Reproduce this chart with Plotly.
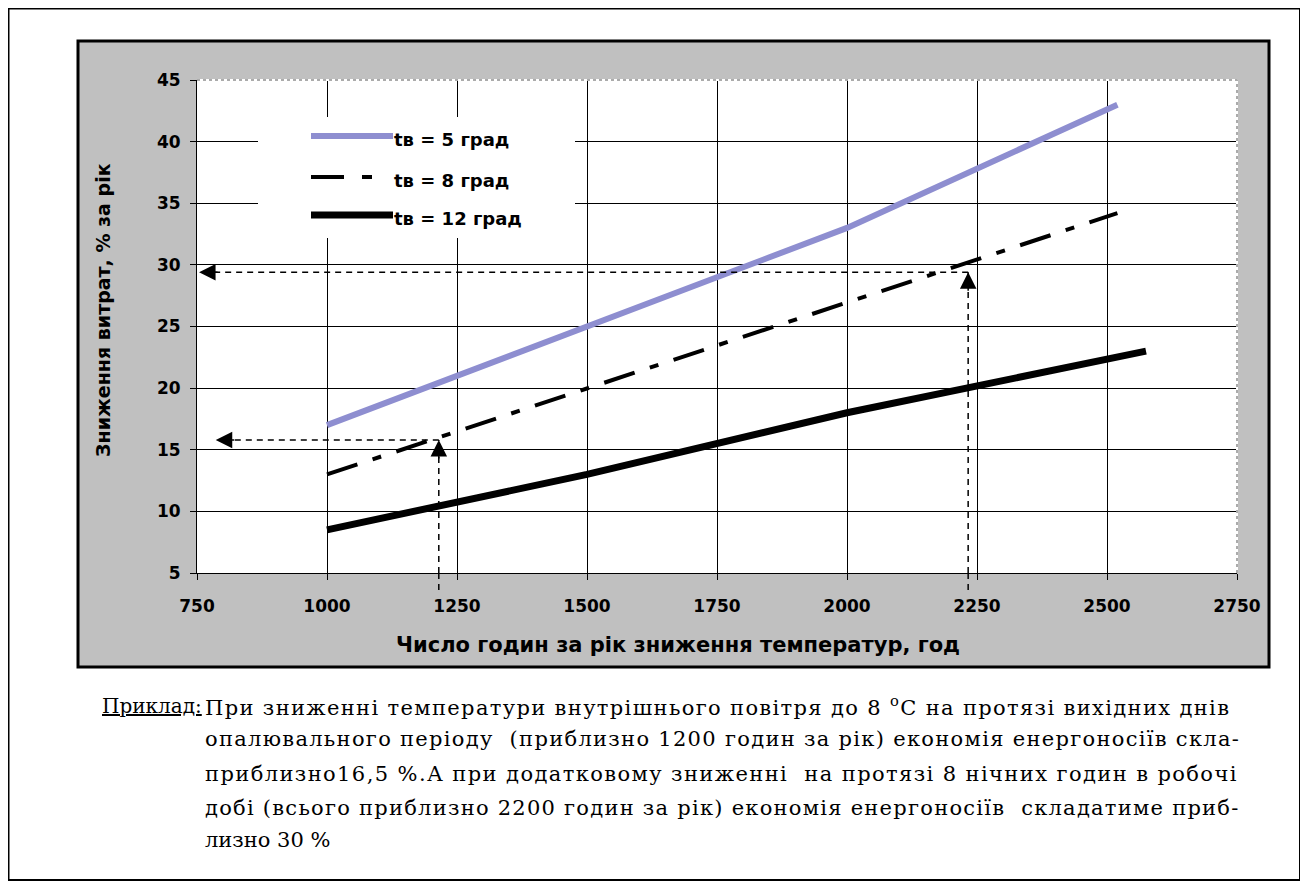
import plotly.graph_objects as go

# ---- data ----
hours_5 = [1000, 1500, 2000, 2520]
save_5 = [17, 25, 33, 43]
hours_8 = [1000, 1500, 2000, 2520]
save_8 = [13, 20, 27, 34.2]
hours_12 = [1000, 1500, 2000, 2575]
save_12 = [8.5, 13, 18, 23]

series_names = ["tв = 5 град", "tв = 8 град", "tв = 12 град"]

# example reading lines (hours, saving, arrow end on hours axis)
ex1_hours, ex1_save, ex1_left = 1215, 15.8, 786
ex2_hours, ex2_save, ex2_left = 2233, 29.4, 754

x_ticks = [750, 1000, 1250, 1500, 1750, 2000, 2250, 2500, 2750]
y_ticks = [5, 10, 15, 20, 25, 30, 35, 40, 45]

x_title = "Число годин за рік зниження температур, год"
y_title = "Зниження витрат, % за рік"

note_label = '<span style="text-decoration:underline">Приклад:</span>'
note_lines = [
    "При зниженні температури внутрішнього повітря до 8 <sup>o</sup>С на протязі вихідних днів",
    "опалювального періоду  (приблизно 1200 годин за рік) економія енергоносіїв скла-",
    "приблизно16,5 %.А при додатковому зниженні  на протязі 8 нічних годин в робочі",
    "добі (всього приблизно 2200 годин за рік) економія енергоносіїв  складатиме приб-",
    "лизно 30 %",
]

# ---- layout geometry (page pixels; the page body adds an 8px offset) ----
OFF = 8
W, H = 1308, 888
L, R, T, B = 197, 1237, 80, 573   # plot area on the page


def px(x):
    return (x - L) / (R - L)


def py(y):
    return (B - y) / (B - T)


SANS = "DejaVu Sans"
SERIF = "DejaVu Serif"

fig = go.Figure()

# data series
fig.add_trace(go.Scatter(x=hours_5, y=save_5, mode="lines", name=series_names[0],
                         line=dict(color="#8e8ed0", width=6), showlegend=False))
fig.add_trace(go.Scatter(x=hours_8, y=save_8, mode="lines", name=series_names[1],
                         line=dict(color="black", width=4, dash="32px,16px,9px,16px"),
                         showlegend=False))
fig.add_trace(go.Scatter(x=hours_12, y=save_12, mode="lines", name=series_names[2],
                         line=dict(color="black", width=7), showlegend=False))

# dashed reading lines
for hx, sv, lx in [(ex1_hours, ex1_save, ex1_left), (ex2_hours, ex2_save, ex2_left)]:
    fig.add_trace(go.Scatter(x=[hx, hx], y=[y_ticks[0], sv], mode="lines", showlegend=False,
                             line=dict(color="black", width=1.5, dash="6px,5px")))
    fig.add_trace(go.Scatter(x=[hx, lx + 20], y=[sv, sv], mode="lines", showlegend=False,
                             line=dict(color="black", width=1.5, dash="6px,5px")))

shapes = []
# outer frame
shapes.append(dict(type="rect", xref="paper", yref="paper", x0=px(8.5), x1=px(1300), y0=py(880), y1=py(8.5),
                   line=dict(color="black", width=2), fillcolor="white", layer="below"))
# grey chart area
shapes.append(dict(type="rect", xref="paper", yref="paper", x0=px(78), x1=px(1269), y0=py(667), y1=py(41),
                   line=dict(color="black", width=3), fillcolor="#c0c0c0", layer="below"))
# white plot area
shapes.append(dict(type="rect", xref="paper", yref="paper", x0=0, x1=1, y0=0, y1=1,
                   line=dict(width=0), fillcolor="white", layer="below"))
# top / right plot border (dotted grey)
for (x0, y0, x1, y1) in [(0, 1, 1, 1), (1, 0, 1, 1)]:
    shapes.append(dict(type="line", xref="paper", yref="paper", x0=x0, y0=y0, x1=x1, y1=y1,
                       line=dict(color="white", width=2), layer="above"))
    shapes.append(dict(type="line", xref="paper", yref="paper", x0=x0, y0=y0, x1=x1, y1=y1,
                       line=dict(color="#909090", width=1.5, dash="dot"), layer="above"))
# stubs of the vertical reading lines below the axis
for hx in [ex1_hours, ex2_hours]:
    shapes.append(dict(type="line", xref="x", yref="paper", x0=hx, x1=hx, y0=py(590), y1=0,
                       line=dict(color="black", width=1.5, dash="6px,5px"), layer="above"))

# custom legend
shapes.append(dict(type="rect", xref="paper", yref="paper", x0=px(258), x1=px(575), y0=py(238), y1=py(117),
                   line=dict(width=0), fillcolor="white", layer="above"))
leg_y = [136, 177, 215]
leg_x_end = [393, 377, 393]
leg_styles = [dict(color="#8e8ed0", width=6),
              dict(color="black", width=4, dash="33px,18px,10px,18px"),
              dict(color="black", width=7)]
for yy, xe, st in zip(leg_y, leg_x_end, leg_styles):
    shapes.append(dict(type="line", xref="paper", yref="paper", x0=px(311), x1=px(xe), y0=py(yy), y1=py(yy),
                       line=st, layer="above"))

annotations = []
for yy, name in zip(leg_y, series_names):
    annotations.append(dict(xref="paper", yref="paper", x=px(392), y=py(yy + 3), text=name,
                            showarrow=False, xanchor="left", yanchor="middle",
                            font=dict(family=SANS, size=18, color="black", weight="bold")))

# arrow heads
arrow_common = dict(xref="x", yref="y", text="", showarrow=True, arrowhead=2,
                    arrowsize=2.2, arrowwidth=1.5, arrowcolor="black")
annotations.append(dict(x=ex1_left, y=ex1_save, ax=20, ay=0, **arrow_common))
annotations.append(dict(x=ex2_left, y=ex2_save, ax=20, ay=0, **arrow_common))
annotations.append(dict(x=ex1_hours, y=ex1_save, ax=0, ay=20, **arrow_common))
annotations.append(dict(x=ex2_hours, y=ex2_save, ax=0, ay=20, **arrow_common))

# axis titles
annotations.append(dict(xref="paper", yref="paper", x=px(678), y=py(645), text=x_title, showarrow=False,
                        xanchor="center", yanchor="middle",
                        font=dict(family=SANS, size=21, color="black", weight="bold")))
annotations.append(dict(xref="paper", yref="paper", x=px(103), y=py(310), text=y_title, showarrow=False,
                        textangle=-90, xanchor="center", yanchor="middle",
                        font=dict(family=SANS, size=19, color="black", weight="bold")))

# note text (justified lines widened with letter spacing)
note_font = dict(family=SERIF, size=21, color="black")
annotations.append(dict(xref="paper", yref="paper", x=px(100), y=py(706), text=note_label,
                        showarrow=False, xanchor="left", yanchor="middle",
                        font=dict(family=SERIF, size=20, color="black")))
note_y = [706, 739, 774, 808, 840]
note_spacing = [1.35, 1.3, 1.4, 1.25, 0]
for ty, sp, line in zip(note_y, note_spacing, note_lines):
    annotations.append(dict(xref="paper", yref="paper", x=px(203), y=py(ty),
                            text='<span style="letter-spacing:%spx">%s</span>' % (sp, line),
                            showarrow=False, xanchor="left", yanchor="middle", font=note_font))

axis_common = dict(showgrid=True, gridcolor="black", gridwidth=1, zeroline=False,
                   showline=True, linecolor="black", linewidth=1,
                   ticks="outside", ticklen=6, tickcolor="black", tickwidth=1,
                   tickfont=dict(family=SANS, size=17, color="black", weight="bold"))

fig.update_layout(
    width=W, height=H, autosize=False,
    margin=dict(l=L - OFF, r=W - (R - OFF), t=T - OFF, b=H - (B - OFF)),
    paper_bgcolor="white", plot_bgcolor="white",
    xaxis=dict(range=[x_ticks[0], x_ticks[-1]], tickvals=x_ticks, ticklabelstandoff=12, **axis_common),
    yaxis=dict(range=[y_ticks[0], y_ticks[-1]], tickvals=y_ticks, ticklabelstandoff=6, **axis_common),
    shapes=shapes, annotations=annotations, showlegend=False,
)

fig.write_html("out.html")
